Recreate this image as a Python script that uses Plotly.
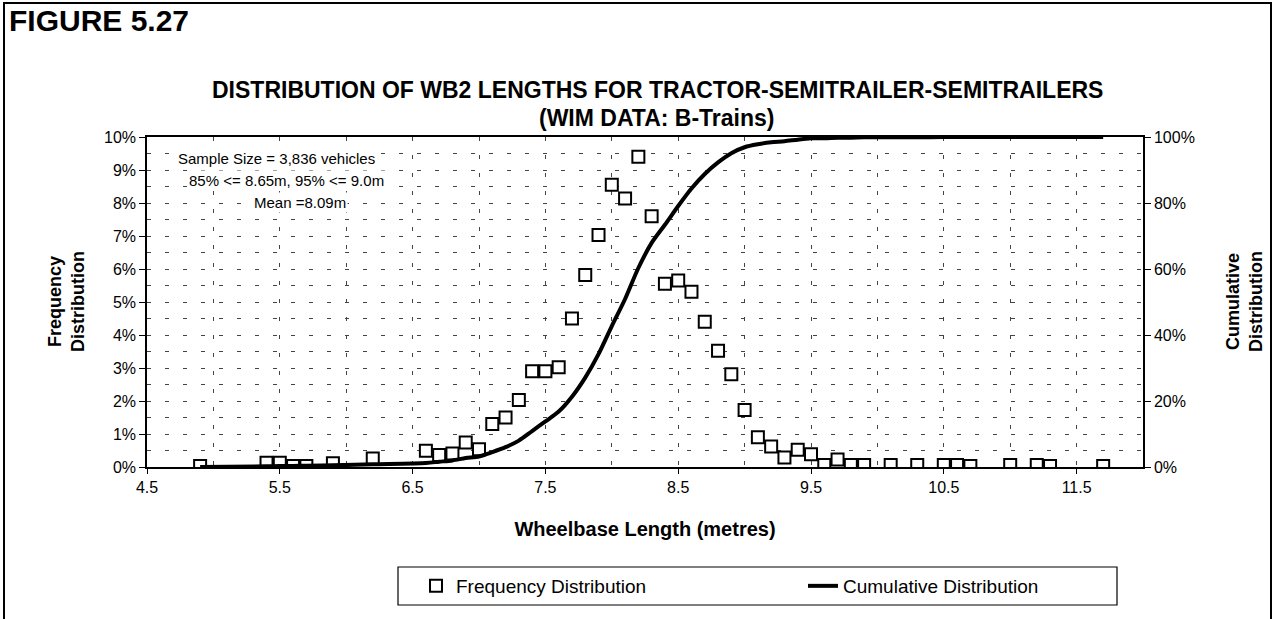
import plotly.graph_objects as go

# ---- data ----
wheelbase_m = [4.9, 5.4, 5.5, 5.6, 5.7, 5.9, 6.2, 6.6, 6.7, 6.8, 6.9, 7.0,
               7.1, 7.2, 7.3, 7.4, 7.5, 7.6, 7.7, 7.8, 7.9, 8.0, 8.1, 8.2,
               8.3, 8.4, 8.5, 8.6, 8.7, 8.8, 8.9, 9.0, 9.1, 9.2, 9.3, 9.4,
               9.5, 9.6, 9.7, 9.8, 9.9, 10.1, 10.3, 10.5, 10.6, 10.7, 11.0,
               11.2, 11.3, 11.7]
frequency_pct = [0.03, 0.13, 0.13, 0.03, 0.03, 0.11, 0.26, 0.49, 0.36, 0.41, 0.74, 0.54,
                 1.30, 1.50, 2.03, 2.90, 2.90, 3.02, 4.50, 5.82, 7.03, 8.55, 8.14, 9.40,
                 7.60, 5.55, 5.65, 5.31, 4.40, 3.52, 2.81, 1.73, 0.90, 0.62, 0.29, 0.52,
                 0.39, 0.06, 0.23, 0.06, 0.06, 0.06, 0.06, 0.06, 0.06, 0.03, 0.06,
                 0.06, 0.03, 0.03]
cumulative_pct = [0.0, 0.2, 0.3, 0.3, 0.4, 0.5, 0.8, 1.2, 1.6, 2.0, 2.7, 3.2,
                  4.5, 6.0, 8.0, 10.9, 13.8, 16.8, 21.3, 27.1, 34.2, 42.7, 50.9, 60.3,
                  67.9, 73.4, 79.1, 84.4, 88.8, 92.3, 95.1, 96.9, 97.8, 98.4, 98.7, 99.2,
                  99.6, 99.6, 99.8, 99.8, 99.9, 99.9, 99.9, 100.0, 100.0, 100.0, 100.0,
                  100.0, 100.0, 100.0]

x_tick_labels = ["4.5", "5.5", "6.5", "7.5", "8.5", "9.5", "10.5", "11.5"]

FONT = "Arial, Liberation Sans, Helvetica, sans-serif"
GRID = "#444444"
DASH = "4px,14px"

fig = go.Figure()
fig.add_trace(go.Scatter(
    x=wheelbase_m, y=[v / 100 for v in frequency_pct],
    mode="markers", name="Frequency Distribution",
    marker=dict(symbol="square", size=12, color="white",
                line=dict(color="black", width=2)),
    yaxis="y"))
fig.add_trace(go.Scatter(
    x=wheelbase_m, y=[v / 100 for v in cumulative_pct],
    mode="lines", name="Cumulative Distribution",
    line=dict(color="black", width=4, shape="spline", smoothing=0.8),
    yaxis="y2"))

L, R, T, B = 147, 1143, 137, 467
W, H = 1274, 619
pw, ph = R - L, B - T


def px(xp):
    return (xp - L) / pw


def py(yp):
    return (B - yp) / ph


fig.update_layout(
    width=W, height=H,
    margin=dict(l=L, r=W - R, t=T, b=H - B, pad=0),
    paper_bgcolor="white", plot_bgcolor="white",
    font=dict(family=FONT, color="black", size=15),
    showlegend=True,
    legend=dict(orientation="h", x=px(416), y=py(586), xanchor="left", yanchor="middle",
                borderwidth=0, bgcolor="rgba(0,0,0,0)",
                font=dict(size=19, family=FONT), entrywidth=342,
                itemsizing="trace"),
    xaxis=dict(range=[4.5, 12.0], tickmode="array",
               tickvals=[float(t) for t in x_tick_labels], ticktext=x_tick_labels,
               showgrid=True, gridcolor=GRID, griddash=DASH, gridwidth=1,
               minor=dict(dtick=0.5, tick0=4.5, showgrid=True, gridcolor=GRID,
                          griddash=DASH, gridwidth=1),
               showline=True, linecolor="black", linewidth=1.5, mirror=True,
               ticks="outside", ticklen=5, tickcolor="black",
               tickfont=dict(size=16), zeroline=False,
               title=dict(text="<b>Wheelbase Length (metres)</b>",
                          font=dict(size=20), standoff=27)),
    yaxis=dict(range=[0, 0.10], dtick=0.01, tickformat=".0%",
               showgrid=True, gridcolor=GRID, griddash=DASH, gridwidth=1,
               minor=dict(dtick=0.005, showgrid=True, gridcolor=GRID,
                          griddash=DASH, gridwidth=1),
               showline=True, linecolor="black", linewidth=1.5,
               ticks="outside", ticklen=6, tickcolor="black",
               tickfont=dict(size=16), zeroline=False),
    yaxis2=dict(range=[0, 1.0], dtick=0.2, tickformat=".0%", overlaying="y",
                side="right", showgrid=False, showline=True, linecolor="black",
                linewidth=1.5, ticks="outside", ticklen=6, tickcolor="black",
                tickfont=dict(size=16), zeroline=False),
)

annotations = [
    dict(text="<b>FIGURE 5.27</b>", x=px(7), y=py(21), xanchor="left", yanchor="middle",
         font=dict(size=30)),
    dict(text="<b>DISTRIBUTION OF WB2 LENGTHS FOR TRACTOR-SEMITRAILER-SEMITRAILERS</b>",
         x=px(657), y=py(90), xanchor="center", yanchor="middle", font=dict(size=23)),
    dict(text="<b>(WIM DATA: B-Trains)</b>",
         x=px(657), y=py(118), xanchor="center", yanchor="middle", font=dict(size=23)),
    dict(text="<b>Frequency<br>Distribution</b>", x=px(66), y=py(302), textangle=-90,
         xanchor="center", yanchor="middle", font=dict(size=18)),
    dict(text="<b>Cumulative<br>Distribution</b>", x=px(1244), y=py(302), textangle=-90,
         xanchor="center", yanchor="middle", font=dict(size=18)),
    dict(text="Sample Size = 3,836 vehicles", x=px(276), y=py(158),
         xanchor="center", yanchor="middle", font=dict(size=15), bgcolor="white"),
    dict(text="85% <= 8.65m, 95% <= 9.0m", x=px(286), y=py(180),
         xanchor="center", yanchor="middle", font=dict(size=15), bgcolor="white"),
    dict(text="Mean =8.09m", x=px(300), y=py(202),
         xanchor="center", yanchor="middle", font=dict(size=15), bgcolor="white"),
]
for a in annotations:
    a.update(xref="paper", yref="paper", showarrow=False)
fig.update_layout(annotations=annotations)

# outer figure frame
fig.add_shape(type="rect", xref="paper", yref="paper",
              x0=px(4), x1=px(1271), y0=py(640), y1=py(3),
              line=dict(color="black", width=2), layer="below")
# legend box
fig.add_shape(type="rect", xref="paper", yref="paper",
              x0=px(398), x1=px(1117), y0=py(605), y1=py(567),
              line=dict(color="black", width=1.2), layer="below")

fig.write_html("out.html",
               config={"displayModeBar": False},
               post_script="document.body.style.margin='0px';document.body.style.overflow='hidden';")
